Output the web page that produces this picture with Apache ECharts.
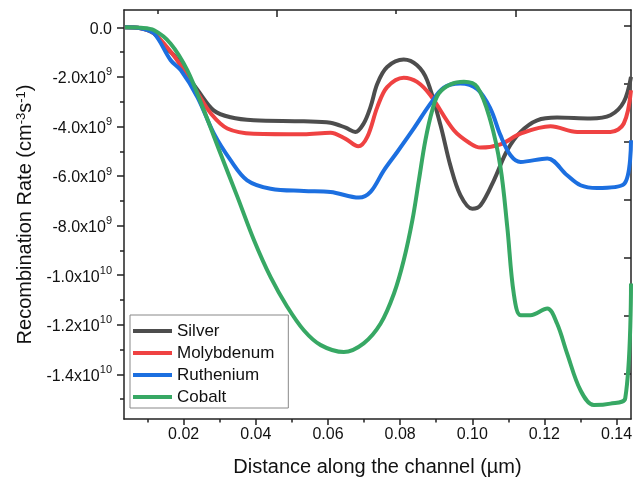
<!DOCTYPE html>
<html>
<head>
<meta charset="utf-8">
<script src="https://cdn.jsdelivr.net/npm/echarts@6/dist/echarts.min.js"></script>
<style>html,body{margin:0;padding:0;background:#fff}#c{width:641px;height:482px}</style>
</head>
<body>
<div id="c"></div>
<script>
// Values: x in µm, y in units of 1e9 cm^-3 s^-1
const silverX = [0.0037,0.0081,0.0117,0.0150,0.0178,0.0210,0.0239,0.0283,0.0330,0.0394,0.0533,0.0607,0.0649,0.0676,0.0699,0.0718,0.0737,0.0764,0.0810,0.0847,0.0875,0.0912,0.0939,0.0967,0.1000,0.1023,0.1060,0.1097,0.1134,0.1180,0.1235,0.1328,0.1383,0.1420,0.1440];
const silverY = [0,-0.04,-0.24,-0.81,-1.21,-1.94,-2.54,-3.35,-3.63,-3.75,-3.79,-3.85,-4.05,-4.22,-3.88,-3.21,-2.27,-1.60,-1.30,-1.53,-2.14,-3.95,-5.56,-6.77,-7.32,-7.18,-6.17,-4.96,-4.22,-3.75,-3.64,-3.68,-3.55,-3.01,-2.00];

const molyX = [0.0037,0.0081,0.0118,0.0178,0.0239,0.0275,0.0321,0.0394,0.0533,0.0607,0.0649,0.0684,0.0709,0.0737,0.0764,0.0810,0.0847,0.0884,0.0949,0.0995,0.1023,0.1078,0.1134,0.1217,0.1291,0.1383,0.1420,0.1440];
const molyY = [0,-0.04,-0.25,-1.25,-2.66,-3.47,-4.08,-4.29,-4.31,-4.25,-4.50,-4.80,-4.42,-3.21,-2.41,-2.03,-2.20,-2.74,-4.15,-4.69,-4.85,-4.72,-4.29,-3.99,-4.22,-4.22,-3.88,-2.54];

const ruthX = [0.0037,0.0081,0.0118,0.0164,0.0192,0.0238,0.0284,0.0330,0.0376,0.0441,0.0533,0.0607,0.0686,0.0718,0.0755,0.0792,0.0838,0.0884,0.0921,0.0967,0.1014,0.1050,0.1078,0.1106,0.1134,0.1208,0.1263,0.1300,0.1346,0.1420,0.1440];
const ruthY = [0,-0.04,-0.25,-1.33,-1.73,-2.81,-4.29,-5.36,-6.17,-6.51,-6.60,-6.64,-6.87,-6.64,-5.77,-5.03,-4.08,-3.08,-2.43,-2.27,-2.50,-3.27,-4.35,-5.16,-5.43,-5.29,-5.97,-6.37,-6.48,-6.33,-4.56];

const cobaltX = [0.0037,0.0081,0.0118,0.0164,0.0210,0.0256,0.0302,0.0349,0.0395,0.0441,0.0487,0.0533,0.0580,0.0644,0.0699,0.0746,0.0783,0.0810,0.0834,0.0852,0.0870,0.0889,0.0907,0.0940,0.0977,0.1014,0.1050,0.1078,0.1097,0.1115,0.1134,0.1161,0.1208,0.1235,0.1263,0.1300,0.1337,0.1383,0.1424,0.1440];
const cobaltY = [0,-0.02,-0.12,-0.66,-1.73,-3.35,-5.09,-6.84,-8.59,-10.08,-11.27,-12.22,-12.82,-13.10,-12.75,-11.95,-10.74,-9.40,-7.78,-6.17,-4.56,-3.35,-2.67,-2.30,-2.20,-2.41,-3.75,-5.63,-8.05,-10.74,-11.61,-11.61,-11.34,-11.95,-13.16,-14.64,-15.24,-15.18,-14.97,-10.33];

const seriesNames = ['Silver','Molybdenum','Ruthenium','Cobalt'];
const seriesColors = ['#4d4d4d','#ef4242','#1c6fe0','#37a864'];

const xMajorTicks = [0.02,0.04,0.06,0.08,0.10,0.12,0.14];
const xMinorTicks = [0.01,0.03,0.05,0.07,0.09,0.11,0.13];
const yMajorTicks = [0,-2,-4,-6,-8,-10,-12,-14];
const yMinorTicks = [-1,-3,-5,-7,-9,-11,-13,-15];
const topMajorTicks = [2,4];
const topMinorTicks = [1,3];
const rightTicks = [0,-1,-2,-3,-4,-5,-6];

const FONT = 'Liberation Sans, Arial, sans-serif';
const AX = '#222';

function yLabel(v){
  if (Math.abs(v) < 1e-9) return '{n|0.0}';
  const val = v * 1e9;
  const exp = Math.floor(Math.log10(Math.abs(val)));
  const man = val / Math.pow(10, exp);
  return '{n|' + man.toFixed(1) + 'x10}{s|' + exp + '}';
}

const pairs = (xs, ys) => xs.map((x, i) => [x, ys[i]]);
const allX = [silverX, molyX, ruthX, cobaltX];
const allY = [silverY, molyY, ruthY, cobaltY];

const chart = echarts.init(document.getElementById('c'), null, {renderer: 'canvas'});
chart.setOption({
  animation: false,
  backgroundColor: '#fff',
  textStyle: {fontFamily: FONT},
  grid: {left: 124, right: 10, top: 10, bottom: 63, containLabel: false},
  legend: {
    orient: 'vertical', left: 130, top: 315,
    data: seriesNames,
    icon: 'rect', itemWidth: 39, itemHeight: 4, itemGap: 4,
    padding: [7, 14, 2, 3],
    backgroundColor: '#fff', borderColor: '#888', borderWidth: 1,
    textStyle: {fontFamily: FONT, fontSize: 17, color: '#111', lineHeight: 18}
  },
  xAxis: [
    {type: 'value', position: 'bottom', min: 0.00346, max: 0.1440,
     name: 'Distance along the channel (\u00b5m)', nameLocation: 'middle', nameGap: 38,
     nameTextStyle: {fontFamily: FONT, fontSize: 20, color: '#111'},
     axisLine: {show: true, onZero: false, lineStyle: {color: AX, width: 1.5}},
     axisTick: {show: true, inside: false, length: 6, customValues: xMajorTicks, lineStyle: {color: AX, width: 1.5}},
     axisLabel: {show: true, margin: 8, customValues: xMajorTicks, formatter: v => v.toFixed(2), fontFamily: FONT, fontSize: 16, color: '#111'},
     splitLine: {show: false}},
    {type: 'value', position: 'bottom', min: 0.00346, max: 0.1440,
     axisLine: {show: false, onZero: false},
     axisTick: {show: true, inside: false, length: 3.5, customValues: xMinorTicks, lineStyle: {color: AX, width: 1.5}},
     axisLabel: {show: false}, splitLine: {show: false}},
    {type: 'value', position: 'top', min: 0.714, max: 4.972,
     axisLine: {show: true, onZero: false, lineStyle: {color: AX, width: 1.5}},
     axisTick: {show: true, inside: true, length: 7, customValues: topMajorTicks, lineStyle: {color: AX, width: 1.5}},
     axisLabel: {show: false}, splitLine: {show: false}},
    {type: 'value', position: 'top', min: 0.714, max: 4.972,
     axisLine: {show: false, onZero: false},
     axisTick: {show: true, inside: true, length: 4, customValues: topMinorTicks, lineStyle: {color: AX, width: 1.5}},
     axisLabel: {show: false}, splitLine: {show: false}}
  ],
  yAxis: [
    {type: 'value', position: 'left', min: -15.80, max: 0.698,
     name: 'Recombination Rate (cm{s|-3}s{s|-1})', nameLocation: 'middle', nameGap: 83,
     nameTextStyle: {fontFamily: FONT, fontSize: 20, color: '#111',
       rich: {s: {fontFamily: FONT, fontSize: 13, color: '#111', verticalAlign: 'top', lineHeight: 22}}},
     axisLine: {show: true, onZero: false, lineStyle: {color: AX, width: 1.5}},
     axisTick: {show: true, inside: false, length: 7, customValues: yMajorTicks, lineStyle: {color: AX, width: 1.5}},
     axisLabel: {show: true, margin: 12, customValues: yMajorTicks, formatter: yLabel,
       rich: {n: {fontFamily: FONT, fontSize: 16, color: '#111', lineHeight: 20, verticalAlign: 'bottom'},
              s: {fontFamily: FONT, fontSize: 11, color: '#111', lineHeight: 20, verticalAlign: 'top'}}},
     splitLine: {show: false}},
    {type: 'value', position: 'left', min: -15.80, max: 0.698,
     axisLine: {show: false, onZero: false},
     axisTick: {show: true, inside: false, length: 4, customValues: yMinorTicks, lineStyle: {color: AX, width: 1.5}},
     axisLabel: {show: false}, splitLine: {show: false}},
    {type: 'value', position: 'right', min: -6.776, max: 0.276,
     axisLine: {show: true, onZero: false, lineStyle: {color: AX, width: 1.5}},
     axisTick: {show: true, inside: true, length: 7, customValues: rightTicks, lineStyle: {color: AX, width: 1.5}},
     axisLabel: {show: false}, splitLine: {show: false}}
  ],
  series: seriesNames.map((name, i) => ({
    name: name, type: 'line', xAxisIndex: 0, yAxisIndex: 0,
    data: pairs(allX[i], allY[i]),
    showSymbol: false, symbol: 'none', smooth: 0.35,
    lineStyle: {color: seriesColors[i], width: 4},
    itemStyle: {color: seriesColors[i]},
    clip: true
  }))
});
</script>
</body>
</html>
